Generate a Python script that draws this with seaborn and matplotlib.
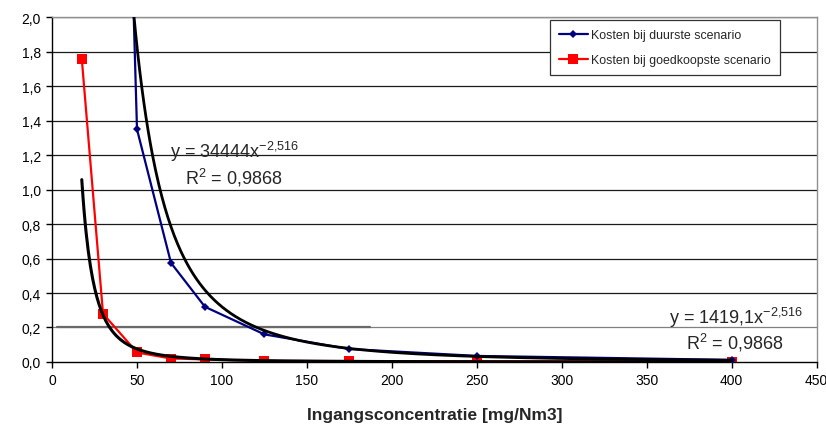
import numpy as np
import pandas as pd
import matplotlib
matplotlib.use("Agg")
import matplotlib.pyplot as plt
import seaborn as sns

# ---- data ----
x_duur = [30, 50, 70, 90, 125, 175, 250, 400]
y_duur = [8.2, 1.35, 0.575, 0.32, 0.16, 0.075, 0.035, 0.012]
x_goed = [17.5, 30, 50, 70, 90, 125, 175, 250, 400]
y_goed = [1.76, 0.28, 0.055, 0.02, 0.015, 0.006, 0.005, 0.004, 0.002]
label_duur = "Kosten bij duurste scenario"
label_goed = "Kosten bij goedkoopste scenario"
# power trendlines  y = a * x^b
a_duur, a_goed, b_pow = 34444, 1419.1, -2.516
eq_duur = r"y = 34444x$^{\mathregular{-2{,}516}}$"
eq_goed = r"y = 1419,1x$^{\mathregular{-2{,}516}}$"
r2_text = r"R$^{\mathregular{2}}$ = 0,9868"
x_ticks = list(range(0, 451, 50))
y_ticks = [0.0, 0.2, 0.4, 0.6, 0.8, 1.0, 1.2, 1.4, 1.6, 1.8, 2.0]
x_label = "Ingangsconcentratie [mg/Nm3]"

sns.set_theme(style="white")
plt.rcParams["font.family"] = ["Liberation Sans", "DejaVu Sans"]
plt.rcParams["mathtext.fontset"] = "custom"
plt.rcParams["mathtext.rm"] = "Liberation Sans"
plt.rcParams["mathtext.it"] = "Liberation Sans"

fig = plt.figure(figsize=(8.26, 4.27), dpi=100)
ax = fig.add_axes([0.063, 0.150, 0.9257, 0.807])

# gridlines
for yv in y_ticks[1:]:
    col = "#808080" if abs(yv - 0.2) < 1e-9 else "#1a1a1a"
    ax.axhline(yv, color=col, lw=0.9, zorder=0)
ax.plot([3, 187], [0.2, 0.2], color="#6a6a6a", lw=1.6, zorder=0.5)

df_d = pd.DataFrame({"x": x_duur, "y": y_duur})
df_g = pd.DataFrame({"x": x_goed, "y": y_goed})

sns.lineplot(data=df_d, x="x", y="y", ax=ax, color="#000080", lw=1.6,
             marker="D", markersize=4.5, markeredgewidth=0, label=label_duur,
             sort=False, zorder=3)
sns.lineplot(data=df_g, x="x", y="y", ax=ax, color="#ff0000", lw=1.6,
             marker="s", markersize=6.5, markeredgewidth=0, label=label_goed,
             sort=False, zorder=2)

# trendlines
xt_d = np.linspace(min(x_duur), max(x_duur), 600)
xt_g = np.linspace(min(x_goed), max(x_goed), 600)
ax.plot(xt_d, a_duur * xt_d ** b_pow, color="black", lw=2.0, zorder=4)
ax.plot(xt_g, a_goed * xt_g ** b_pow, color="black", lw=2.2, zorder=4)

ax.text(69.5, 1.223, eq_duur, fontsize=13, ha="left", va="center")
ax.text(78.3, 1.072, r2_text, fontsize=13, ha="left", va="center")
ax.text(362.9, 0.261, eq_goed, fontsize=13, ha="left", va="center")
ax.text(372.9, 0.116, r2_text, fontsize=13, ha="left", va="center")

ax.set_xlim(0, 450)
ax.set_ylim(0, 2.0)
ax.set_xticks(x_ticks)
ax.set_yticks(y_ticks)
ax.set_xticklabels([str(v) for v in x_ticks], fontsize=10)
ax.set_yticklabels([f"{v:.1f}".replace(".", ",") for v in y_ticks], fontsize=10)
ax.tick_params(axis="both", direction="out", length=4, width=1, color="black",
               bottom=True, left=True, pad=4, labelcolor="black")
ax.set_xlabel(x_label, fontsize=12.5, fontweight="bold", labelpad=14)
ax.set_ylabel("")

for s in ["left", "bottom"]:
    ax.spines[s].set_color("black")
    ax.spines[s].set_linewidth(1.0)
for s in ["top", "right"]:
    ax.spines[s].set_color("#909090")
    ax.spines[s].set_linewidth(1.0)

leg = ax.legend(loc="upper left", bbox_to_anchor=(0.651, 0.993), fontsize=8.9,
                frameon=True, fancybox=False, edgecolor="#333333",
                handlelength=2.3, handletextpad=0.3, labelspacing=1.05,
                borderpad=0.75, borderaxespad=0)
leg.get_frame().set_linewidth(0.9)
leg.get_frame().set_facecolor("white")
leg.get_frame().set_alpha(1)
leg.set_zorder(10)

fig.savefig("out.png", dpi=100)
